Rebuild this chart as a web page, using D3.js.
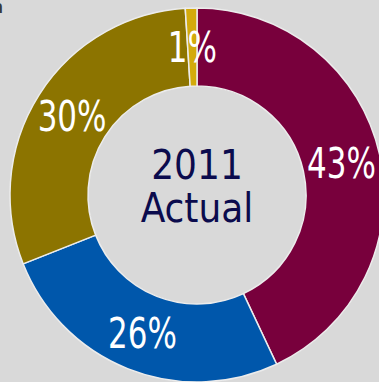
<!DOCTYPE html>
<html lang="en">
<head>
  <meta charset="utf-8">
  <title>2011 Actual</title>
  <script src="https://d3js.org/d3.v7.min.js"></script>
  <style>
    html, body {
      margin: 0;
      padding: 0;
      background: #d9d9d9;
      overflow: hidden;
    }
    svg { display: block; }
    .pct {
      font-family: 'DejaVu Sans Condensed', 'DejaVu Sans', sans-serif;
      font-stretch: condensed;
      fill: #ffffff;
    }
    .center {
      font-family: 'DejaVu Sans Condensed', 'DejaVu Sans', sans-serif;
      font-stretch: condensed;
      fill: #0b0b4d;
    }
  </style>
</head>
<body>
<div id="chart"></div>
<script>
  // data, clockwise from 12 o'clock
  var categories = ["A", "B", "C", "D"];
  var values = [43, 26, 30, 1];
  var labels = ["43%", "26%", "30%", "1%"];
  var colors = ["#78003c", "#0057ab", "#8c7400", "#d3aa0c"];
  var centerLines = ["2011", "Actual"];

  var W = 379, H = 382;
  var cx = 197, cy = 195;
  var outerR = 187, innerR = 109;

  var svg = d3.select("#chart")
    .append("svg")
    .attr("width", W)
    .attr("height", H);

  // tail of a title glyph that sits just outside the view
  svg.append("text")
    .attr("x", -9)
    .attr("y", 13)
    .style("font-family", "DejaVu Sans, sans-serif")
    .style("font-size", "17px")
    .style("font-weight", "bold")
    .style("fill", "#3a3a3a")
    .text("n");

  var g = svg.append("g")
    .attr("transform", "translate(" + cx + "," + cy + ")");

  var pie = d3.pie().sort(null).value(function (d) { return d; });
  var arcs = pie(values);

  var arc = d3.arc().innerRadius(innerR).outerRadius(outerR);

  g.selectAll(".slice")
    .data(arcs)
    .enter()
    .append("path")
    .attr("class", "slice")
    .attr("d", arc)
    .attr("fill", function (d, i) { return colors[i]; })
    .attr("stroke", "#ececec")
    .attr("stroke-width", 1.5);

  // percent labels, squeezed a little horizontally
  g.selectAll(".pct")
    .data(arcs)
    .enter()
    .append("text")
    .attr("class", "pct")
    .attr("transform", function (d) {
      var c = arc.centroid(d);
      return "translate(" + c[0] + "," + (c[1] + 15) + ") scale(0.82,1)";
    })
    .attr("text-anchor", "middle")
    .style("font-size", "42px")
    .text(function (d, i) { return labels[i]; });

  // centre title
  g.selectAll(".center")
    .data(centerLines)
    .enter()
    .append("text")
    .attr("class", "center")
    .attr("x", 0)
    .attr("y", function (d, i) { return -16 + i * 43; })
    .attr("text-anchor", "middle")
    .style("font-size", "40px")
    .text(function (d) { return d; });
</script>
</body>
</html>
